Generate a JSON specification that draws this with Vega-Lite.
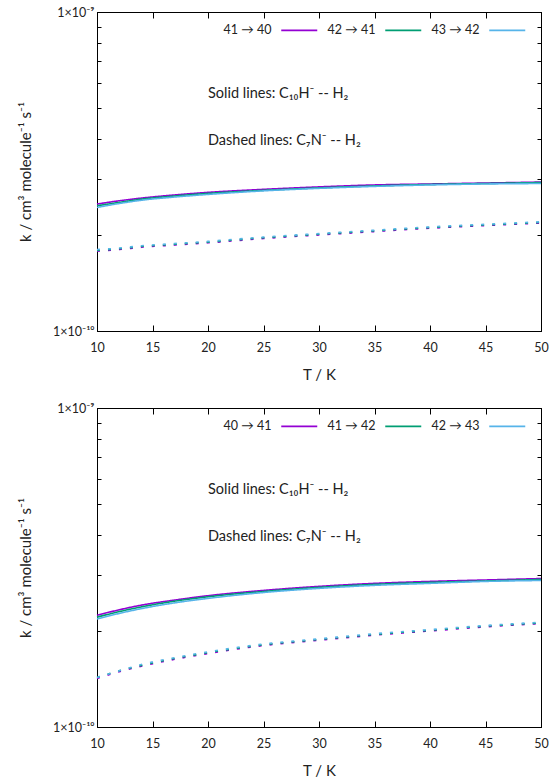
{
  "$schema": "https://vega.github.io/schema/vega-lite/v6.json",
  "padding": {"left": 17, "top": 5, "right": 5, "bottom": 2},
  "background": "white",
  "config": {
    "font": "Lato",
    "view": {"stroke": "#000000", "strokeWidth": 1},
    "axis": {"domainColor": "#000000", "tickColor": "#000000", "labelColor": "#222222", "titleColor": "#222222", "labelFont": "Lato", "titleFont": "Lato", "labelFontSize": 12.5, "titleFontSize": 15, "titleFontWeight": "normal", "grid": false},
    "legend": {"labelFont": "Lato", "labelFontSize": 12.5, "labelColor": "#222222"},
    "text": {"font": "Lato", "fontSize": 14.5, "color": "#222222"}
  },
  "datasets": {
    "top": [
      {"tr": "41 → 40", "s": "C10H", "T": 10, "k": 2.50e-10}, {"tr": "41 → 40", "s": "C10H", "T": 12, "k": 2.56e-10}, {"tr": "41 → 40", "s": "C10H", "T": 14, "k": 2.61e-10}, {"tr": "41 → 40", "s": "C10H", "T": 17, "k": 2.67e-10}, {"tr": "41 → 40", "s": "C10H", "T": 20, "k": 2.72e-10}, {"tr": "41 → 40", "s": "C10H", "T": 25, "k": 2.78e-10}, {"tr": "41 → 40", "s": "C10H", "T": 30, "k": 2.83e-10}, {"tr": "41 → 40", "s": "C10H", "T": 35, "k": 2.87e-10}, {"tr": "41 → 40", "s": "C10H", "T": 40, "k": 2.89e-10}, {"tr": "41 → 40", "s": "C10H", "T": 45, "k": 2.91e-10}, {"tr": "41 → 40", "s": "C10H", "T": 50, "k": 2.93e-10},
      {"tr": "42 → 41", "s": "C10H", "T": 10, "k": 2.47e-10}, {"tr": "42 → 41", "s": "C10H", "T": 12, "k": 2.53e-10}, {"tr": "42 → 41", "s": "C10H", "T": 14, "k": 2.59e-10}, {"tr": "42 → 41", "s": "C10H", "T": 17, "k": 2.65e-10}, {"tr": "42 → 41", "s": "C10H", "T": 20, "k": 2.70e-10}, {"tr": "42 → 41", "s": "C10H", "T": 25, "k": 2.76e-10}, {"tr": "42 → 41", "s": "C10H", "T": 30, "k": 2.81e-10}, {"tr": "42 → 41", "s": "C10H", "T": 35, "k": 2.85e-10}, {"tr": "42 → 41", "s": "C10H", "T": 40, "k": 2.88e-10}, {"tr": "42 → 41", "s": "C10H", "T": 45, "k": 2.90e-10}, {"tr": "42 → 41", "s": "C10H", "T": 50, "k": 2.92e-10},
      {"tr": "43 → 42", "s": "C10H", "T": 10, "k": 2.44e-10}, {"tr": "43 → 42", "s": "C10H", "T": 12, "k": 2.51e-10}, {"tr": "43 → 42", "s": "C10H", "T": 14, "k": 2.57e-10}, {"tr": "43 → 42", "s": "C10H", "T": 17, "k": 2.63e-10}, {"tr": "43 → 42", "s": "C10H", "T": 20, "k": 2.68e-10}, {"tr": "43 → 42", "s": "C10H", "T": 25, "k": 2.75e-10}, {"tr": "43 → 42", "s": "C10H", "T": 30, "k": 2.80e-10}, {"tr": "43 → 42", "s": "C10H", "T": 35, "k": 2.84e-10}, {"tr": "43 → 42", "s": "C10H", "T": 40, "k": 2.87e-10}, {"tr": "43 → 42", "s": "C10H", "T": 45, "k": 2.89e-10}, {"tr": "43 → 42", "s": "C10H", "T": 50, "k": 2.90e-10},
      {"tr": "41 → 40", "s": "C7N", "T": 10, "k": 1.78e-10}, {"tr": "41 → 40", "s": "C7N", "T": 12, "k": 1.80e-10}, {"tr": "41 → 40", "s": "C7N", "T": 14, "k": 1.83e-10}, {"tr": "41 → 40", "s": "C7N", "T": 17, "k": 1.86e-10}, {"tr": "41 → 40", "s": "C7N", "T": 20, "k": 1.89e-10}, {"tr": "41 → 40", "s": "C7N", "T": 25, "k": 1.95e-10}, {"tr": "41 → 40", "s": "C7N", "T": 30, "k": 2.00e-10}, {"tr": "41 → 40", "s": "C7N", "T": 35, "k": 2.05e-10}, {"tr": "41 → 40", "s": "C7N", "T": 40, "k": 2.10e-10}, {"tr": "41 → 40", "s": "C7N", "T": 45, "k": 2.14e-10}, {"tr": "41 → 40", "s": "C7N", "T": 50, "k": 2.18e-10},
      {"tr": "42 → 41", "s": "C7N", "T": 10, "k": 1.79e-10}, {"tr": "42 → 41", "s": "C7N", "T": 12, "k": 1.81e-10}, {"tr": "42 → 41", "s": "C7N", "T": 14, "k": 1.84e-10}, {"tr": "42 → 41", "s": "C7N", "T": 17, "k": 1.87e-10}, {"tr": "42 → 41", "s": "C7N", "T": 20, "k": 1.90e-10}, {"tr": "42 → 41", "s": "C7N", "T": 25, "k": 1.96e-10}, {"tr": "42 → 41", "s": "C7N", "T": 30, "k": 2.01e-10}, {"tr": "42 → 41", "s": "C7N", "T": 35, "k": 2.06e-10}, {"tr": "42 → 41", "s": "C7N", "T": 40, "k": 2.11e-10}, {"tr": "42 → 41", "s": "C7N", "T": 45, "k": 2.15e-10}, {"tr": "42 → 41", "s": "C7N", "T": 50, "k": 2.19e-10},
      {"tr": "43 → 42", "s": "C7N", "T": 10, "k": 1.80e-10}, {"tr": "43 → 42", "s": "C7N", "T": 12, "k": 1.82e-10}, {"tr": "43 → 42", "s": "C7N", "T": 14, "k": 1.85e-10}, {"tr": "43 → 42", "s": "C7N", "T": 17, "k": 1.88e-10}, {"tr": "43 → 42", "s": "C7N", "T": 20, "k": 1.91e-10}, {"tr": "43 → 42", "s": "C7N", "T": 25, "k": 1.97e-10}, {"tr": "43 → 42", "s": "C7N", "T": 30, "k": 2.02e-10}, {"tr": "43 → 42", "s": "C7N", "T": 35, "k": 2.07e-10}, {"tr": "43 → 42", "s": "C7N", "T": 40, "k": 2.12e-10}, {"tr": "43 → 42", "s": "C7N", "T": 45, "k": 2.16e-10}, {"tr": "43 → 42", "s": "C7N", "T": 50, "k": 2.20e-10}
    ],
    "bottom": [
      {"tr": "40 → 41", "s": "C10H", "T": 10, "k": 2.24e-10}, {"tr": "40 → 41", "s": "C10H", "T": 12, "k": 2.33e-10}, {"tr": "40 → 41", "s": "C10H", "T": 14, "k": 2.41e-10}, {"tr": "40 → 41", "s": "C10H", "T": 17, "k": 2.50e-10}, {"tr": "40 → 41", "s": "C10H", "T": 20, "k": 2.58e-10}, {"tr": "40 → 41", "s": "C10H", "T": 25, "k": 2.68e-10}, {"tr": "40 → 41", "s": "C10H", "T": 30, "k": 2.76e-10}, {"tr": "40 → 41", "s": "C10H", "T": 35, "k": 2.82e-10}, {"tr": "40 → 41", "s": "C10H", "T": 40, "k": 2.86e-10}, {"tr": "40 → 41", "s": "C10H", "T": 45, "k": 2.89e-10}, {"tr": "40 → 41", "s": "C10H", "T": 50, "k": 2.92e-10},
      {"tr": "41 → 42", "s": "C10H", "T": 10, "k": 2.21e-10}, {"tr": "41 → 42", "s": "C10H", "T": 12, "k": 2.30e-10}, {"tr": "41 → 42", "s": "C10H", "T": 14, "k": 2.38e-10}, {"tr": "41 → 42", "s": "C10H", "T": 17, "k": 2.48e-10}, {"tr": "41 → 42", "s": "C10H", "T": 20, "k": 2.56e-10}, {"tr": "41 → 42", "s": "C10H", "T": 25, "k": 2.66e-10}, {"tr": "41 → 42", "s": "C10H", "T": 30, "k": 2.74e-10}, {"tr": "41 → 42", "s": "C10H", "T": 35, "k": 2.80e-10}, {"tr": "41 → 42", "s": "C10H", "T": 40, "k": 2.84e-10}, {"tr": "41 → 42", "s": "C10H", "T": 45, "k": 2.87e-10}, {"tr": "41 → 42", "s": "C10H", "T": 50, "k": 2.90e-10},
      {"tr": "42 → 43", "s": "C10H", "T": 10, "k": 2.18e-10}, {"tr": "42 → 43", "s": "C10H", "T": 12, "k": 2.27e-10}, {"tr": "42 → 43", "s": "C10H", "T": 14, "k": 2.35e-10}, {"tr": "42 → 43", "s": "C10H", "T": 17, "k": 2.45e-10}, {"tr": "42 → 43", "s": "C10H", "T": 20, "k": 2.53e-10}, {"tr": "42 → 43", "s": "C10H", "T": 25, "k": 2.64e-10}, {"tr": "42 → 43", "s": "C10H", "T": 30, "k": 2.72e-10}, {"tr": "42 → 43", "s": "C10H", "T": 35, "k": 2.78e-10}, {"tr": "42 → 43", "s": "C10H", "T": 40, "k": 2.82e-10}, {"tr": "42 → 43", "s": "C10H", "T": 45, "k": 2.86e-10}, {"tr": "42 → 43", "s": "C10H", "T": 50, "k": 2.88e-10},
      {"tr": "40 → 41", "s": "C7N", "T": 10, "k": 1.42e-10}, {"tr": "40 → 41", "s": "C7N", "T": 12, "k": 1.49e-10}, {"tr": "40 → 41", "s": "C7N", "T": 14, "k": 1.55e-10}, {"tr": "40 → 41", "s": "C7N", "T": 17, "k": 1.63e-10}, {"tr": "40 → 41", "s": "C7N", "T": 20, "k": 1.70e-10}, {"tr": "40 → 41", "s": "C7N", "T": 25, "k": 1.80e-10}, {"tr": "40 → 41", "s": "C7N", "T": 30, "k": 1.87e-10}, {"tr": "40 → 41", "s": "C7N", "T": 35, "k": 1.94e-10}, {"tr": "40 → 41", "s": "C7N", "T": 40, "k": 2.00e-10}, {"tr": "40 → 41", "s": "C7N", "T": 45, "k": 2.06e-10}, {"tr": "40 → 41", "s": "C7N", "T": 50, "k": 2.11e-10},
      {"tr": "41 → 42", "s": "C7N", "T": 10, "k": 1.43e-10}, {"tr": "41 → 42", "s": "C7N", "T": 12, "k": 1.50e-10}, {"tr": "41 → 42", "s": "C7N", "T": 14, "k": 1.56e-10}, {"tr": "41 → 42", "s": "C7N", "T": 17, "k": 1.64e-10}, {"tr": "41 → 42", "s": "C7N", "T": 20, "k": 1.71e-10}, {"tr": "41 → 42", "s": "C7N", "T": 25, "k": 1.81e-10}, {"tr": "41 → 42", "s": "C7N", "T": 30, "k": 1.88e-10}, {"tr": "41 → 42", "s": "C7N", "T": 35, "k": 1.95e-10}, {"tr": "41 → 42", "s": "C7N", "T": 40, "k": 2.01e-10}, {"tr": "41 → 42", "s": "C7N", "T": 45, "k": 2.07e-10}, {"tr": "41 → 42", "s": "C7N", "T": 50, "k": 2.12e-10},
      {"tr": "42 → 43", "s": "C7N", "T": 10, "k": 1.43e-10}, {"tr": "42 → 43", "s": "C7N", "T": 12, "k": 1.50e-10}, {"tr": "42 → 43", "s": "C7N", "T": 14, "k": 1.57e-10}, {"tr": "42 → 43", "s": "C7N", "T": 17, "k": 1.65e-10}, {"tr": "42 → 43", "s": "C7N", "T": 20, "k": 1.72e-10}, {"tr": "42 → 43", "s": "C7N", "T": 25, "k": 1.82e-10}, {"tr": "42 → 43", "s": "C7N", "T": 30, "k": 1.89e-10}, {"tr": "42 → 43", "s": "C7N", "T": 35, "k": 1.96e-10}, {"tr": "42 → 43", "s": "C7N", "T": 40, "k": 2.02e-10}, {"tr": "42 → 43", "s": "C7N", "T": 45, "k": 2.08e-10}, {"tr": "42 → 43", "s": "C7N", "T": 50, "k": 2.13e-10}
    ]
  },
  "spacing": 18,
  "resolve": {"scale": {"color": "independent"}, "legend": {"color": "independent"}},
  "vconcat": [
    {
      "width": 444,
      "height": 319,
      "resolve": {"axis": {"x": "independent", "y": "independent"}},
      "layer": [
        {
          "data": {"name": "top"},
          "mark": {"type": "line", "strokeWidth": 1.6, "interpolate": "monotone"},
          "encoding": {
            "x": {"field": "T", "type": "quantitative", "scale": {"domain": [10, 50], "nice": false, "zero": false}, "axis": {"orient": "bottom", "values": [10, 15, 20, 25, 30, 35, 40, 45, 50], "tickSize": -6, "labelPadding": 16, "title": "T / K", "titlePadding": 14, "labelFlush": false}},
            "y": {"field": "k", "type": "quantitative", "scale": {"type": "log", "domain": [1e-10, 1e-9], "nice": false}, "axis": {"orient": "left", "values": [1e-10, 2e-10, 3e-10, 4e-10, 5e-10, 6e-10, 7e-10, 8e-10, 9e-10, 1e-9], "tickSize": -4, "labelPadding": 7, "labelFlush": false, "labelOverlap": false, "labelExpr": "abs(log(datum.value)/LN10 + 10) < 0.01 ? '1×10⁻¹⁰' : (abs(log(datum.value)/LN10 + 9) < 0.01 ? '1×10⁻⁹' : '')", "title": "k / cm³ molecule⁻¹ s⁻¹", "titlePadding": 19}},
            "color": {"field": "tr", "type": "nominal", "scale": {"domain": ["41 → 40", "42 → 41", "43 → 42"], "range": ["#9400d3", "#009e73", "#56b4e9"]}, "legend": {"orient": "top-right", "direction": "horizontal", "title": null, "symbolType": "M-9,0H9", "symbolSize": 16, "symbolStrokeWidth": 1.6, "labelAlign": "right", "labelOffset": -34, "columnPadding": 6, "offset": 12, "padding": 0}},
            "strokeDash": {"field": "s", "type": "nominal", "scale": {"domain": ["C10H", "C7N"], "range": [[1, 0], [3, 8]]}, "legend": null}
          }
        },
        {
          "data": {"name": "top"},
          "mark": {"type": "line", "opacity": 0},
          "encoding": {
            "x": {"field": "T", "type": "quantitative", "axis": {"orient": "top", "values": [10, 15, 20, 25, 30, 35, 40, 45, 50], "tickSize": -6, "labels": false, "title": null}},
            "y": {"field": "k", "type": "quantitative", "axis": {"orient": "right", "values": [1e-10, 2e-10, 3e-10, 4e-10, 5e-10, 6e-10, 7e-10, 8e-10, 9e-10, 1e-9], "tickSize": -4, "labels": false, "title": null}},
            "detail": {"field": "tr"}
          }
        },
        {
          "data": {"values": [{}]},
          "mark": {"type": "text", "align": "left", "baseline": "middle"},
          "encoding": {"x": {"datum": 20, "type": "quantitative", "axis": null}, "y": {"datum": 5.54e-10, "type": "quantitative", "axis": null}, "text": {"value": "Solid lines: C₁₀H⁻ -- H₂"}}
        },
        {
          "data": {"values": [{}]},
          "mark": {"type": "text", "align": "left", "baseline": "middle"},
          "encoding": {"x": {"datum": 20, "type": "quantitative", "axis": null}, "y": {"datum": 3.95e-10, "type": "quantitative", "axis": null}, "text": {"value": "Dashed lines: C₇N⁻ -- H₂"}}
        }
      ]
    },
    {
      "width": 444,
      "height": 319,
      "resolve": {"axis": {"x": "independent", "y": "independent"}},
      "layer": [
        {
          "data": {"name": "bottom"},
          "mark": {"type": "line", "strokeWidth": 1.6, "interpolate": "monotone"},
          "encoding": {
            "x": {"field": "T", "type": "quantitative", "scale": {"domain": [10, 50], "nice": false, "zero": false}, "axis": {"orient": "bottom", "values": [10, 15, 20, 25, 30, 35, 40, 45, 50], "tickSize": -6, "labelPadding": 16, "title": "T / K", "titlePadding": 14, "labelFlush": false}},
            "y": {"field": "k", "type": "quantitative", "scale": {"type": "log", "domain": [1e-10, 1e-9], "nice": false}, "axis": {"orient": "left", "values": [1e-10, 2e-10, 3e-10, 4e-10, 5e-10, 6e-10, 7e-10, 8e-10, 9e-10, 1e-9], "tickSize": -4, "labelPadding": 7, "labelFlush": false, "labelOverlap": false, "labelExpr": "abs(log(datum.value)/LN10 + 10) < 0.01 ? '1×10⁻¹⁰' : (abs(log(datum.value)/LN10 + 9) < 0.01 ? '1×10⁻⁹' : '')", "title": "k / cm³ molecule⁻¹ s⁻¹", "titlePadding": 19}},
            "color": {"field": "tr", "type": "nominal", "scale": {"domain": ["40 → 41", "41 → 42", "42 → 43"], "range": ["#9400d3", "#009e73", "#56b4e9"]}, "legend": {"orient": "top-right", "direction": "horizontal", "title": null, "symbolType": "M-9,0H9", "symbolSize": 16, "symbolStrokeWidth": 1.6, "labelAlign": "right", "labelOffset": -34, "columnPadding": 6, "offset": 12, "padding": 0}},
            "strokeDash": {"field": "s", "type": "nominal", "scale": {"domain": ["C10H", "C7N"], "range": [[1, 0], [3, 8]]}, "legend": null}
          }
        },
        {
          "data": {"name": "bottom"},
          "mark": {"type": "line", "opacity": 0},
          "encoding": {
            "x": {"field": "T", "type": "quantitative", "axis": {"orient": "top", "values": [10, 15, 20, 25, 30, 35, 40, 45, 50], "tickSize": -6, "labels": false, "title": null}},
            "y": {"field": "k", "type": "quantitative", "axis": {"orient": "right", "values": [1e-10, 2e-10, 3e-10, 4e-10, 5e-10, 6e-10, 7e-10, 8e-10, 9e-10, 1e-9], "tickSize": -4, "labels": false, "title": null}},
            "detail": {"field": "tr"}
          }
        },
        {
          "data": {"values": [{}]},
          "mark": {"type": "text", "align": "left", "baseline": "middle"},
          "encoding": {"x": {"datum": 20, "type": "quantitative", "axis": null}, "y": {"datum": 5.54e-10, "type": "quantitative", "axis": null}, "text": {"value": "Solid lines: C₁₀H⁻ -- H₂"}}
        },
        {
          "data": {"values": [{}]},
          "mark": {"type": "text", "align": "left", "baseline": "middle"},
          "encoding": {"x": {"datum": 20, "type": "quantitative", "axis": null}, "y": {"datum": 3.95e-10, "type": "quantitative", "axis": null}, "text": {"value": "Dashed lines: C₇N⁻ -- H₂"}}
        }
      ]
    }
  ]
}
